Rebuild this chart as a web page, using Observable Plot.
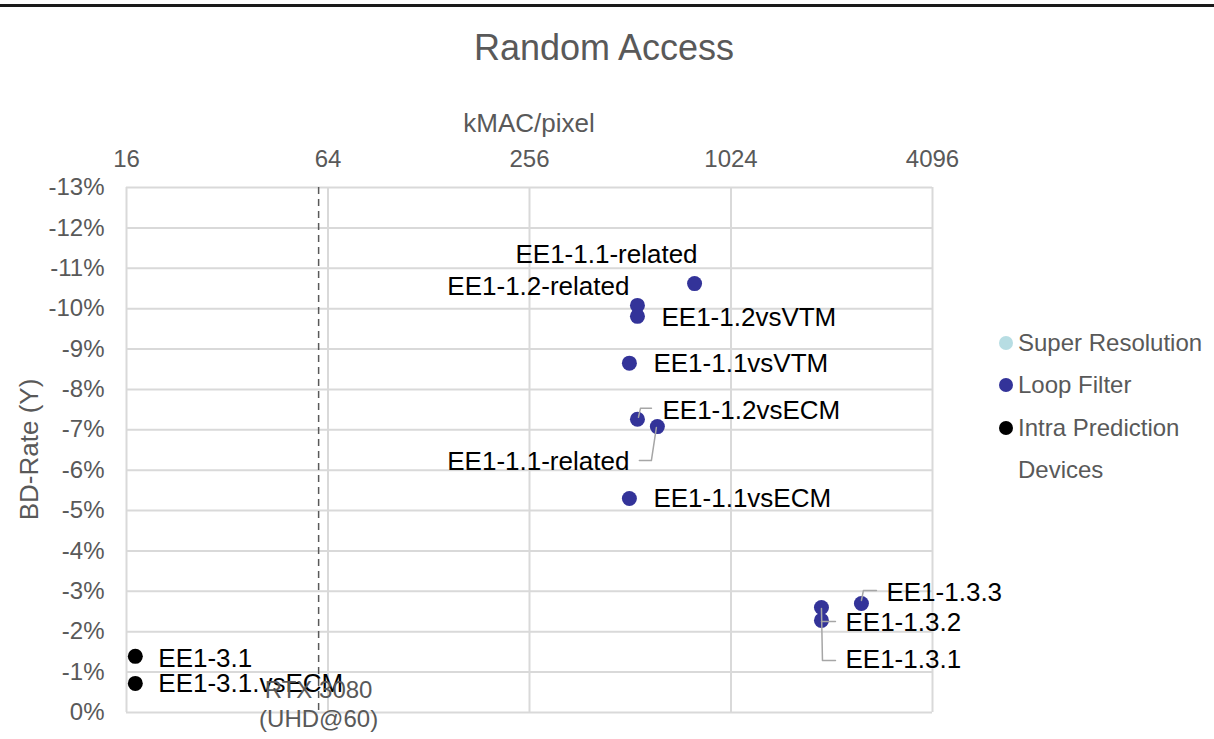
<!DOCTYPE html>
<html>
<head>
<meta charset="utf-8">
<script src="https://cdn.jsdelivr.net/npm/d3@7"></script>
<script src="https://cdn.jsdelivr.net/npm/@observablehq/plot@0.6"></script>
<style>
  html, body { margin: 0; padding: 0; background: #fff; }
  #wrap { position: relative; width: 1214px; height: 739px; overflow: hidden; font-family: "Liberation Sans", Arial, sans-serif; }
  #topline { position: absolute; left: 0; top: 4px; width: 1214px; height: 3px; background: #1a1a1a; }
  #chart { position: absolute; left: 0; top: 0; }
  #overlay { position: absolute; left: 0; top: 0; pointer-events: none; }
</style>
</head>
<body>
<div id="wrap">
  <div id="chart"></div>
  <svg id="overlay" width="1214" height="739"></svg>
  <div id="topline"></div>
</div>
<script>
// ---------------- DATA ----------------
const chartTitle = "Random Access";
const xAxisTitle = "kMAC/pixel";
const yAxisTitle = "BD-Rate (Y)";
const xTicks = [16, 64, 256, 1024, 4096];
const yTicksPct = [0, -1, -2, -3, -4, -5, -6, -7, -8, -9, -10, -11, -12, -13];

const pointNames = ["EE1-1.1-related", "EE1-1.2-related", "EE1-1.2vsVTM", "EE1-1.1vsVTM",
  "EE1-1.2vsECM", "EE1-1.1-related", "EE1-1.1vsECM", "EE1-1.3.1", "EE1-1.3.2", "EE1-1.3.3",
  "EE1-3.1", "EE1-3.1.vsECM"];
const kmacPerPixel = [797, 538, 538, 509, 538, 617, 509, 1908, 1908, 2512, 17, 17];
const bdRatePct = [-10.62, -10.08, -9.81, -8.65, -7.26, -7.08, -5.30, -2.60, -2.28, -2.70, -1.39, -0.72];
const pointGroups = ["Loop Filter", "Loop Filter", "Loop Filter", "Loop Filter", "Loop Filter",
  "Loop Filter", "Loop Filter", "Loop Filter", "Loop Filter", "Loop Filter",
  "Intra Prediction", "Intra Prediction"];

const legendNames = ["Super Resolution", "Loop Filter", "Intra Prediction", "Devices"];
const legendColors = ["#b7dde3", "#333399", "#000000", null];

const deviceNames = ["RTX 3080\n(UHD@60)"];
const deviceKmac = [60];

// ---------------- LAYOUT (not data) ----------------
const W = 1214, H = 739;
const M = { top: 187, right: 282, bottom: 27, left: 126 };
const FONT = '"Liberation Sans", Arial, sans-serif';
const GREY = "#595959";
// label offsets in pixels relative to each point, and leader-line vertices
const labelLayout = [
  { dx: 3,   dy: -29, anchor: "end",   leader: null },
  { dx: -8,  dy: -19, anchor: "end",   leader: null },
  { dx: 24,  dy: 1,   anchor: "start", leader: null },
  { dx: 24,  dy: 0,   anchor: "start", leader: null },
  { dx: 25,  dy: -9,  anchor: "start", leader: [[1, -2], [3, -11], [14, -11]] },
  { dx: -28, dy: 35,  anchor: "end",   leader: [[-1, 1], [-6, 34], [-18, 34]] },
  { dx: 24,  dy: 0,   anchor: "start", leader: null },
  { dx: 24,  dy: 52,  anchor: "start", leader: [[0, 1], [1, 53], [14, 53]] },
  { dx: 24,  dy: 2,   anchor: "start", leader: [[0, 1], [14, 1]] },
  { dx: 25,  dy: -11, anchor: "start", leader: [[0, -3], [2, -13], [15, -13]] },
  { dx: 23,  dy: 2,   anchor: "start", leader: null },
  { dx: 23,  dy: 0,   anchor: "start", leader: null }
];

// ---------------- BUILD ----------------
const points = pointNames.map((name, i) => ({
  name, kmac: kmacPerPixel[i], bd: bdRatePct[i] / 100, group: pointGroups[i], i
}));
const devices = deviceNames.map((name, i) => ({ name, kmac: deviceKmac[i] }));

const xDomain = [xTicks[0], xTicks[xTicks.length - 1]];
const yDomain = [yTicksPct[0] / 100, yTicksPct[yTicksPct.length - 1] / 100];

const xs = Plot.scale({ x: { type: "log", base: 2, domain: xDomain, range: [M.left, W - M.right] } });
const ys = Plot.scale({ y: { type: "linear", domain: yDomain, range: [H - M.bottom, M.top] } });

const leaders = [];
points.forEach((p, i) => {
  const L = labelLayout[i].leader;
  if (!L) return;
  const px = xs.apply(p.kmac), py = ys.apply(p.bd);
  L.forEach(([dx, dy]) => leaders.push({ id: i, kmac: xs.invert(px + dx), bd: ys.invert(py + dy) }));
});

const labelMarks = points.map((p, i) => Plot.text([p], {
  x: "kmac", y: "bd", text: "name",
  dx: labelLayout[i].dx, dy: labelLayout[i].dy,
  textAnchor: labelLayout[i].anchor, lineAnchor: "middle",
  fontSize: 26, fill: "#000"
}));

const chart = Plot.plot({
  width: W, height: H,
  marginTop: M.top, marginRight: M.right, marginBottom: M.bottom, marginLeft: M.left,
  x: { type: "log", base: 2, domain: xDomain },
  y: { type: "linear", domain: yDomain },
  color: { domain: legendNames.slice(0, 3), range: legendColors.slice(0, 3) },
  style: { fontFamily: FONT, fontSize: "24px", color: GREY, background: "transparent", overflow: "visible" },
  marks: [
    Plot.gridX(xTicks, { stroke: "#d9d9d9", strokeOpacity: 1, strokeWidth: 2 }),
    Plot.gridY(yTicksPct.map(v => v / 100), { stroke: "#d9d9d9", strokeOpacity: 1, strokeWidth: 2 }),
    Plot.ruleX(devices, { x: "kmac", stroke: GREY, strokeWidth: 1.5, strokeDasharray: "7,5" }),
    Plot.axisX(xTicks, { anchor: "top", tickSize: 0, tickPadding: 21, tickFormat: d => String(d), label: null, fontSize: 24, color: GREY }),
    Plot.axisY(yTicksPct.map(v => v / 100), { anchor: "left", tickSize: 0, tickPadding: 22,
      tickFormat: d => String(Math.round(d * 100)) + "%", label: null, fontSize: 24, color: GREY }),
    Plot.dot(points, { x: "kmac", y: "bd", fill: "group", r: 7.5 }),
    Plot.line(leaders, { x: "kmac", y: "bd", z: "id", stroke: "#a6a6a6", strokeWidth: 1.5 }),
    ...labelMarks,
    Plot.text(devices, { x: "kmac", y: () => 0, text: "name", dy: -9, lineAnchor: "middle",
      lineHeight: 1.17, fontSize: 24, fill: GREY })
  ]
});
document.getElementById("chart").appendChild(chart);

// ---------------- OVERLAY: title, axis titles, legend ----------------
const ov = d3.select("#overlay");
ov.append("text").attr("x", 604).attr("y", 60).attr("text-anchor", "middle")
  .attr("font-family", FONT).attr("font-size", 36).attr("fill", GREY).text(chartTitle);
ov.append("text").attr("x", (M.left + W - M.right) / 2).attr("y", 132).attr("text-anchor", "middle")
  .attr("font-family", FONT).attr("font-size", 26).attr("fill", GREY).text(xAxisTitle);
ov.append("text").attr("transform", `translate(38,${(M.top + H - M.bottom) / 2}) rotate(-90)`)
  .attr("text-anchor", "middle").attr("font-family", FONT).attr("font-size", 26).attr("fill", GREY).text(yAxisTitle);

const legendRowY = [343, 385, 428, 470];
legendNames.forEach((name, i) => {
  if (legendColors[i]) {
    ov.append("circle").attr("cx", 1006).attr("cy", legendRowY[i]).attr("r", 7).attr("fill", legendColors[i]);
  }
  ov.append("text").attr("x", 1018).attr("y", legendRowY[i]).attr("dy", "0.35em")
    .attr("font-family", FONT).attr("font-size", 24).attr("fill", GREY).text(name);
});
</script>
</body>
</html>
